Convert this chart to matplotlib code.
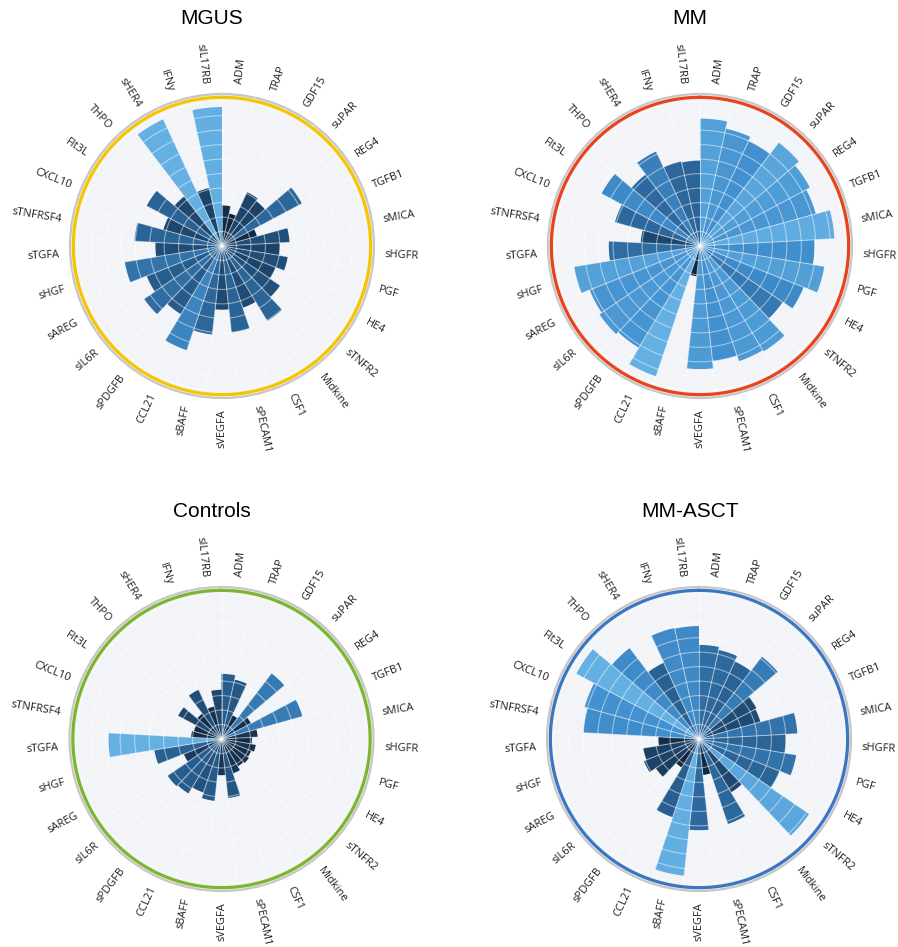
import matplotlib
matplotlib.use("Agg")
import matplotlib.pyplot as plt
import numpy as np
from matplotlib.colors import LinearSegmentedColormap, Normalize

categories = ["ADM", "TRAP", "GDF15", "suPAR", "REG4", "TGFB1", "sMICA", "sHGFR",
              "PGF", "HE4", "sTNFR2", "Midkine", "CSF1", "sPECAM1", "sVEGFA",
              "sBAFF", "CCL21", "sPDGFB", "sIL6R", "sAREG", "sHGF", "sTGFA",
              "sTNFRSF4", "CXCL10", "Flt3L", "THPO", "sHER4", "IFNy", "sIL17RB"]

mgus = [2.8, 2.3, 4.1, 3.9, 6.25, 2.5, 4.67, 4.0, 4.6, 4.0, 4.85, 6.05, 4.5, 6.0,
        4.4, 6.15, 7.6, 5.5, 6.5, 5.6, 6.8, 4.6, 6.05, 4.2, 5.9, 4.3, 9.65, 4.1, 9.6]
mm = [8.8, 8.3, 8.0, 9.0, 8.6, 8.3, 9.3, 7.9, 8.7, 7.7, 6.9, 8.5, 8.4, 8.0,
      8.5, 2.1, 9.5, 8.2, 8.4, 8.2, 8.8, 6.3, 4.1, 6.1, 7.7, 6.2, 7.2, 6.0, 5.9]
controls = [4.5, 4.2, 1.8, 5.7, 2.3, 5.8, 2.5, 2.1, 2.4, 2.2, 2.3, 2.2, 2.5, 4.1,
            2.5, 4.3, 3.9, 4.4, 4.5, 2.8, 4.7, 7.8, 2.1, 2.0, 3.4, 2.2, 3.75, 2.3, 3.4]
mm_asct = [6.5, 6.3, 5.9, 7.15, 4.5, 4.4, 6.8, 6.0, 6.8, 6.0, 9.2, 4.3, 6.2, 2.5,
           6.3, 9.5, 5.7, 2.3, 3.6, 4.1, 3.9, 2.8, 8.0, 8.2, 9.6, 7.9, 5.8, 7.85, 7.8]

titles = ["MGUS", "MM", "Controls", "MM-ASCT"]
ring_colors = ["#f6c500", "#e8431d", "#7db52f", "#3a76c2"]

cmap = LinearSegmentedColormap.from_list(
    "blues_custom",
    [(0.0, "#10263f"), (0.3, "#1f4b75"), (0.55, "#2d699e"),
     (0.8, "#4290cf"), (1.0, "#64b0e2")])

W, H = 898, 947
centers = [(222, 246), (700, 246), (221.5, 739), (699, 739)]
title_pos = [(212, 18), (690, 18), (212, 511), (690, 511)]
RPX = 152          # pixel radius of the outer (grey) ring
R_MAX = 10.5

n = len(categories)
width = 2 * np.pi / n
theta = np.arange(n) * width

fig = plt.figure(figsize=(W / 100, H / 100), dpi=100)
fig.patch.set_facecolor("white")

for data, title, ring, (cx, cy), (tx, ty) in zip(
        [mgus, mm, controls, mm_asct], titles, ring_colors, centers, title_pos):
    ax = fig.add_axes([(cx - RPX) / W, 1 - (cy + RPX) / H, 2 * RPX / W, 2 * RPX / H],
                      projection="polar")
    ax.set_theta_zero_location("N")
    ax.set_theta_direction(-1)
    ax.set_ylim(0, R_MAX)
    ax.set_facecolor("#f2f4f7")
    ax.grid(False)
    ax.set_xticks([])
    ax.set_yticks([])

    vals = np.array(data)
    norm = Normalize(vals.min(), vals.max())
    ax.bar(theta, vals, width=width, align="edge", color=cmap(norm(vals)),
           edgecolor="none", zorder=2)

    # grid drawn over the bars
    circ = np.linspace(0, 2 * np.pi, 500)
    for r in range(1, 11):
        ax.plot(circ, np.full_like(circ, r), color="white", alpha=0.5, lw=0.75, zorder=3)
    for t in theta:
        ax.plot([t, t], [0, R_MAX], color="white", alpha=0.5, lw=0.75, zorder=3)

    ax.spines["polar"].set_color("#c6c6c6")
    ax.spines["polar"].set_linewidth(1.6)
    ax.plot(circ, np.full_like(circ, 10.27), color=ring, lw=2.3, zorder=4)

    for i, name in enumerate(categories):
        deg = np.degrees((i + 0.5) * width)
        if deg < 179.9:
            rot, ha = 90 - deg, "left"
        else:
            rot, ha = 270 - deg, "right"
        ax.text(np.radians(deg), 11.25, name, rotation=rot, rotation_mode="anchor",
                ha=ha, va="center", fontsize=7.9, family="Open Sans",
                color="#1e1e1e", clip_on=False)

    fig.text(tx / W, 1 - ty / H, title, ha="center", va="center",
             fontsize=15, family="Liberation Sans", color="black")

fig.savefig("out.png", dpi=100, facecolor="white")
